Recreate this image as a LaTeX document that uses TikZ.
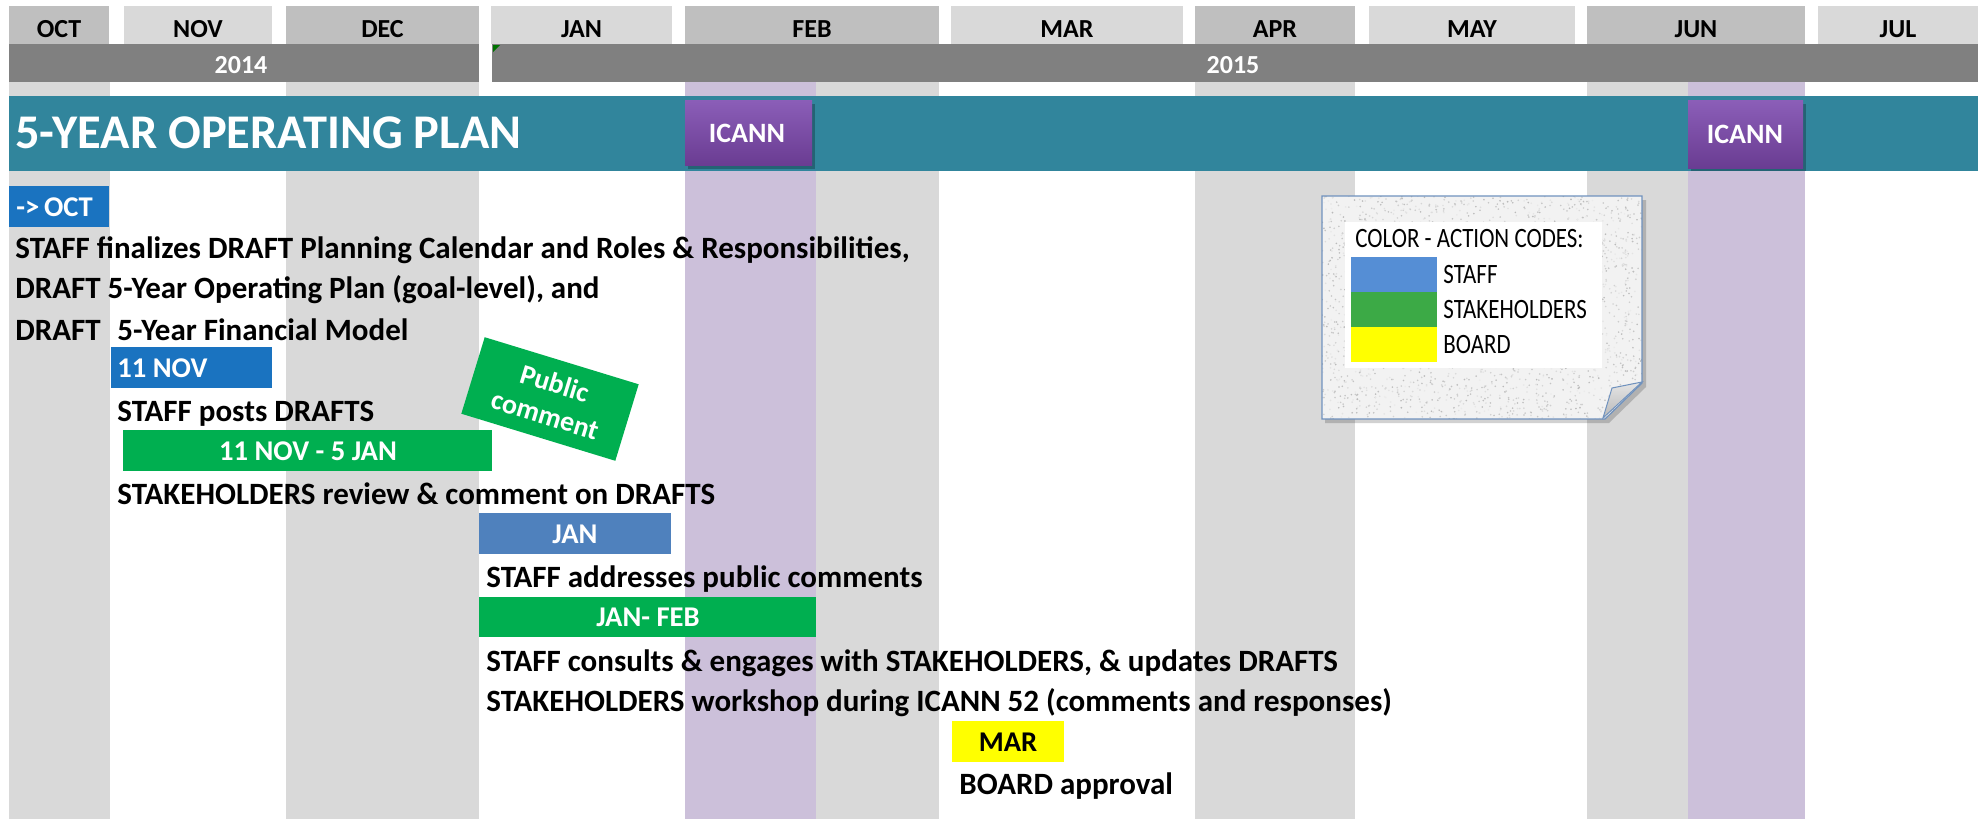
\documentclass[tikz,border=0pt]{standalone}
\usepackage{fontspec}
\usepackage{graphicx}
\setmainfont{Carlito}
\usetikzlibrary{calc}
\definecolor{colgray}{HTML}{D9D9D9}
\definecolor{hdrdark}{HTML}{BFBFBF}
\definecolor{hdrlight}{HTML}{D9D9D9}
\definecolor{yeargray}{HTML}{808080}
\definecolor{bannerteal}{HTML}{31859C}
\definecolor{lpurple}{HTML}{CCC0DA}
\definecolor{icanntop}{HTML}{8B5EB8}
\definecolor{icannbot}{HTML}{6A3C92}
\definecolor{staffblue}{HTML}{1A73C0}
\definecolor{steelblue}{HTML}{4F81BD}
\definecolor{sgreen}{HTML}{00AF50}
\definecolor{byellow}{HTML}{FFFF00}
\definecolor{legblue}{HTML}{558ED5}
\definecolor{leggreen}{HTML}{3CAA46}
\definecolor{noteedge}{HTML}{7092BE}
\definecolor{notefill}{HTML}{F2F2F2}
\begin{document}
\begin{tikzpicture}[x=0.5pt,y=-0.5pt,
  hdr/.style={anchor=base, inner sep=0pt, font=\fontsize{13}{15}\selectfont\bfseries, text=black},
  yeartxt/.style={anchor=base, inner sep=0pt, font=\fontsize{13}{15}\selectfont\bfseries, text=white},
  bodytxt/.style={anchor=base west, inner sep=0pt, font=\fontsize{15.5}{18}\selectfont\bfseries, text=black},
  boxtxt/.style={anchor=base, inner sep=0pt, font=\fontsize{14.3}{17}\selectfont\bfseries, text=white},
  legtxt/.style={anchor=west, inner sep=0pt, font=\fontsize{14}{16}\selectfont, text=black}
]
\useasboundingbox (0,0) rectangle (1978,819);
\fill[white] (0,0) rectangle (1978,819);
% body columns
\foreach \a/\b in {9/110,286/479,685/939,1195/1355,1587/1805}{\fill[colgray] (\a,44) rectangle (\b,819);}
\fill[lpurple] (685,44) rectangle (816,819);
\fill[lpurple] (1688,44) rectangle (1805,819);
% month header cells
\foreach \a/\b/\c/\t in {9/109/hdrdark/OCT,124/272/hdrlight/NOV,286/479/hdrdark/DEC,491/672/hdrlight/JAN,685/939/hdrdark/FEB,951/1183/hdrlight/MAR,1195/1355/hdrdark/APR,1369/1575/hdrlight/MAY,1587/1805/hdrdark/JUN,1818/1978/hdrlight/JUL}{
  \fill[\c] (\a,6) rectangle (\b,44);
  \node[hdr] (m-\t) at ({(\a+\b)/2},37) {\t};
}
% year bars
\fill[yeargray] (9,44) rectangle (479,82);
\fill[yeargray] (492,44) rectangle (1978,82);
\node[yeartxt] (y2014) at (241,73) {2014};
\node[yeartxt] (y2015) at (1233,73) {2015};
\fill[green!45!black] (493,45) -- (500,45) -- (493,52) -- cycle;
% banner
\fill[bannerteal] (9,96) rectangle (1978,171);
\node[anchor=base west, inner sep=0pt, font=\fontsize{24.2}{28}\selectfont\bfseries, text=white] (title) at (15,148) {5-YEAR OPERATING PLAN};
% ICANN boxes
\fill[black, opacity=0.25] (688,104) rectangle (815,169);
\shade[top color=icanntop, bottom color=icannbot] (685,100) rectangle (812,165);
\node[boxtxt, font=\fontsize{14}{17}\selectfont\bfseries] (icann1) at (747,142) {ICANN};
\fill[black, opacity=0.25] (1691,104) rectangle (1806,171);
\shade[top color=icanntop, bottom color=icannbot] (1688,100) rectangle (1803,168);
\node[boxtxt, font=\fontsize{14}{17}\selectfont\bfseries] (icann2) at (1745,143) {ICANN};
% -> OCT
\fill[staffblue] (9,186) rectangle (109,227);
\node[boxtxt, anchor=base west] (oct) at (16,216) {->{}\,OCT};
\node[bodytxt] (t1) at (15,258) {STAFF finalizes DRAFT Planning Calendar and Roles \& Responsibilities,};
\node[bodytxt] (t2) at (15,298) {DRAFT 5-Year Operating Plan (goal-level), and};
\node[bodytxt] (t3) at (15,340) {\makebox[51pt][l]{DRAFT}5-Year Financial Model};
% 11 NOV
\fill[staffblue] (111,347) rectangle (272,388);
\node[boxtxt, anchor=base west] (nov) at (117,377) {11 NOV};
\node[bodytxt] (t4) at (117,421) {STAFF posts DRAFTS};
% 11 NOV - 5 JAN
\fill[sgreen] (123,430) rectangle (492,471);
\node[boxtxt] (novjan) at (308,460) {11 NOV - 5 JAN};
% public comment
\node[fill=sgreen, rotate=-17, minimum width=80.5pt, minimum height=40pt, inner sep=0pt, align=center,
      font=\fontsize{14}{16.5}\selectfont\bfseries, text=white] (pc) at (550,399) {Public\\comment};
\node[bodytxt] (t5) at (117,504) {STAKEHOLDERS review \& comment on DRAFTS};
% JAN
\fill[steelblue] (479,513) rectangle (671,554);
\node[boxtxt] (jan) at (575,543) {JAN};
\node[bodytxt] (t6) at (486,587) {STAFF addresses public comments};
% JAN-FEB
\fill[sgreen] (479,597) rectangle (816,637);
\node[boxtxt] (janfeb) at (648,626) {JAN- FEB};
\node[bodytxt] (t7) at (486,671) {STAFF consults \& engages with STAKEHOLDERS, \& updates DRAFTS};
\node[bodytxt] (t8) at (486,711) {STAKEHOLDERS workshop during ICANN 52 (comments and responses)};
% MAR
\fill[byellow] (952,721) rectangle (1064,762);
\node[boxtxt, text=black] (mar) at (1008,751) {MAR};
\node[bodytxt] (t9) at (959,794) {BOARD approval};
% legend note
\fill[black, opacity=0.18] (1325,200) -- (1646,200) -- (1646,387) -- (1609,423) -- (1325,423) -- cycle;
\begin{scope}
  \clip (1322,196) -- (1642,196) -- (1642,383) -- (1605,419) -- (1322,419) -- cycle;
  \fill[notefill] (1322,196) rectangle (1642,419);
  \pgfmathsetseed{17}
  \foreach \i in {1,...,2400}{
    \pgfmathsetmacro\rx{1322+rnd*320}
    \pgfmathsetmacro\ry{196+rnd*223}
    \pgfmathsetmacro\gg{int(8+rnd*20)}
    \fill[black!\gg] (\rx,\ry) circle[radius=0.9];
  }
\end{scope}
\draw[noteedge, line width=0.6pt] (1322,196) -- (1642,196) -- (1642,383) -- (1605,419) -- (1322,419) -- cycle;
\shade[top color=gray!20, bottom color=gray!55, draw=noteedge, line width=0.5pt] (1603,418) -- (1612,388) -- (1642,382) -- cycle;
\fill[white] (1345,222) rectangle (1602,368);
\node[legtxt] (legtitle) at (1355,239) {\scalebox{0.82}[1]{COLOR - ACTION CODES:}};
\fill[legblue] (1351,257) rectangle (1437,292);
\fill[leggreen] (1351,292) rectangle (1437,327);
\fill[byellow] (1351,327) rectangle (1437,362);
\node[legtxt] (lstaff) at (1443,275) {\scalebox{0.82}[1]{STAFF}};
\node[legtxt] (lstake) at (1443,310) {\scalebox{0.82}[1]{STAKEHOLDERS}};
\node[legtxt] (lboard) at (1443,345) {\scalebox{0.82}[1]{BOARD}};
\end{tikzpicture}
\end{document}
